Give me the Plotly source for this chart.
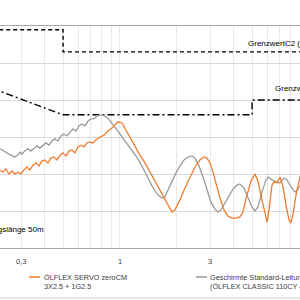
import plotly.graph_objects as go
import math

# Frequency in MHz, level in dBµV
gray_f = [0.232, 0.2433, 0.2555, 0.2683, 0.278, 0.2885, 0.296, 0.303, 0.314, 0.326, 0.338, 0.351, 0.364, 0.377,
          0.391, 0.406, 0.421, 0.437, 0.453, 0.470, 0.487, 0.505, 0.524, 0.544, 0.564, 0.585, 0.607, 0.629,
          0.653, 0.677, 0.702, 0.729, 0.756, 0.784, 0.813, 0.864, 0.918, 0.976, 1.037, 1.102, 1.171, 1.245,
          1.323, 1.406, 1.477, 1.55, 1.608, 1.668, 1.73, 1.795, 1.884, 1.979, 2.077, 2.182, 2.290, 2.404,
          2.493, 2.618, 2.750, 2.886, 3.03, 3.18, 3.30, 3.42, 3.59, 3.77, 3.96, 4.16, 4.31, 4.53, 4.76, 4.99,
          5.18, 5.37, 5.64, 5.92, 6.07, 6.30, 6.61, 7.02, 7.38, 7.65, 8.03, 8.43, 8.74, 8.96, 9.41]
gray_db = [46.8, 46.2, 45.4, 44.9, 44.6, 45.1, 45.9, 45.4, 46.2, 46.8, 46.2, 47.0, 47.6, 47.0,
           47.8, 48.4, 47.8, 48.9, 49.5, 48.9, 50.3, 50.8, 50.3, 51.4, 52.2, 51.6, 53.0, 53.5,
           53.0, 54.3, 54.9, 54.9, 55.7, 55.9, 55.9, 55.1, 53.5, 51.6, 49.7, 47.8, 45.9, 44.1,
           41.6, 38.9, 36.8, 35.1, 34.1, 33.5, 33.8, 35.7, 38.1, 40.3, 42.2, 43.8, 44.6, 44.9,
           44.3, 42.2, 39.2, 35.7, 32.4, 30.5, 29.7, 30.3, 32.2, 34.3, 35.9, 37.0, 37.3, 36.2, 33.5, 31.1,
           30.0, 31.1, 35.1, 38.4, 39.2, 38.6, 37.8, 37.6, 38.9, 38.4, 36.5, 35.1, 35.9, 36.8, 37.6]

orange_f = [0.232, 0.2404, 0.2493, 0.2586, 0.2683, 0.278, 0.2885, 0.2994, 0.3105, 0.322, 0.334, 0.3465,
            0.3594, 0.3728, 0.3867, 0.401, 0.416, 0.4314, 0.4474, 0.4642, 0.482, 0.4993, 0.5179, 0.5372,
            0.5572, 0.578, 0.5995, 0.6219, 0.645, 0.669, 0.694, 0.720, 0.7465, 0.784, 0.823, 0.864, 0.907,
            0.941, 0.976, 1.025, 1.076, 1.13, 1.20, 1.276, 1.356, 1.441, 1.532, 1.628, 1.73, 1.816, 1.884,
            1.954, 2.077, 2.207, 2.346, 2.493, 2.65, 2.783, 2.886, 2.993, 3.105, 3.22, 3.38, 3.55, 3.73,
            3.91, 4.11, 4.31, 4.47, 4.70, 4.93, 5.18, 5.37, 5.64, 5.85, 6.0, 6.14, 6.37, 6.61, 6.77, 7.02,
            7.29, 7.55, 7.84, 8.03, 8.23, 8.53, 8.96, 9.41]
orange_db = [41.1, 40.5, 41.4, 40.0, 40.8, 40.0, 40.5, 40.0, 41.1, 41.9, 41.1, 42.4,
             43.0, 42.2, 43.5, 43.8, 43.0, 44.3, 44.6, 43.8, 45.1, 45.7, 44.9, 46.2,
             46.5, 45.7, 47.3, 47.8, 47.3, 48.4, 48.6, 48.4, 49.2, 50.0, 50.5, 51.6, 52.4,
             53.2, 54.1, 53.8, 51.9, 50.0, 47.3, 45.1, 43.0, 40.5, 38.1, 35.4, 33.0, 31.1, 29.7,
             30.3, 33.0, 36.2, 39.2, 41.9, 43.8, 44.6, 44.3, 43.0, 40.5, 37.3, 33.5, 30.3, 28.6,
             28.1, 28.1, 28.4, 29.7, 34.3, 38.1, 40.0, 38.1, 33.0, 28.9, 27.0, 30.3, 37.0, 38.1, 37.6, 39.2,
             36.5, 31.6, 27.6, 26.8, 29.2, 34.3, 39.2, 41.6]

c2_f = [0.15, 0.5, 0.5, 30]
c2_db = [79, 79, 73, 73]
c1_f = [0.15, 0.5, 5, 5, 30]
c1_db = [66, 56, 56, 60, 60]

tick_vals = [0.3, 0.4, 0.5, 0.6, 0.7, 0.8, 0.9, 1, 2, 3, 4, 5, 6, 7, 8, 9]
tick_text = ["0,3", "", "", "", "", "", "", "1", "", "3", "", "", "", "", "", ""]

name_orange = "ÖLFLEX SERVO zeroCM<br>3X2.5 + 1G2.5"
name_gray = "Geschirmte Standard-Leitung<br>(ÖLFLEX CLASSIC 110CY 4G2.5)"

FONT = "Liberation Sans, Arial, sans-serif"

fig = go.Figure()
fig.add_trace(go.Scatter(x=c2_f, y=c2_db, mode="lines",
                         line=dict(color="#000000", width=1.4, dash="4px,3px"), showlegend=False))
fig.add_trace(go.Scatter(x=c1_f, y=c1_db, mode="lines",
                         line=dict(color="#000000", width=1.4, dash="7px,3px,2px,3px"), showlegend=False))
fig.add_trace(go.Scatter(x=gray_f, y=gray_db, mode="lines",
                         line=dict(color="#9a9a9a", width=1.3), showlegend=False))
fig.add_trace(go.Scatter(x=orange_f, y=orange_db, mode="lines",
                         line=dict(color="#ED7D31", width=1.3), showlegend=False))

# plot area: x 0..300 px, y 26..248 px
def py(pix):
    return (248 - pix) / 222.0

def px(pix):
    return pix / 300.0

shapes = [
    dict(type="line", xref="paper", yref="paper", x0=0, x1=1, y0=py(298), y1=py(298),
         line=dict(color="#d0d0d0", width=1)),
    dict(type="line", xref="paper", yref="paper", x0=px(29), x1=px(40), y0=py(277), y1=py(277),
         line=dict(color="#ED7D31", width=1.5)),
    dict(type="line", xref="paper", yref="paper", x0=px(196), x1=px(207), y0=py(277), y1=py(277),
         line=dict(color="#9a9a9a", width=1.5)),
]

annotations = [
    dict(xref="paper", yref="paper", x=px(42), y=py(281.5), xanchor="left", yanchor="middle",
         text=name_orange, showarrow=False, align="left",
         font=dict(family=FONT, size=7.3, color="#404040")),
    dict(xref="paper", yref="paper", x=px(208), y=py(281.5), xanchor="left", yanchor="middle",
         text=name_gray, showarrow=False, align="left",
         font=dict(family=FONT, size=7.3, color="#404040")),
    dict(xref="paper", yref="paper", x=px(46), y=py(229), xanchor="right", yanchor="middle",
         text="Leitungslänge 50m", showarrow=False,
         font=dict(family=FONT, size=8, color="#000000")),
    dict(xref="paper", yref="paper", x=px(246), y=py(43), xanchor="left", yanchor="middle",
         text="GrenzwertC2 (Industriebereich)", showarrow=False,
         font=dict(family=FONT, size=8, color="#000000")),
    dict(xref="paper", yref="paper", x=px(273), y=py(88), xanchor="left", yanchor="middle",
         text="GrenzwertC1 (Wohnbereich)", showarrow=False,
         font=dict(family=FONT, size=8, color="#000000")),
]

fig.update_layout(
    width=300, height=300,
    margin=dict(l=0, r=0, t=26, b=52),
    paper_bgcolor="white", plot_bgcolor="white",
    shapes=shapes, annotations=annotations,
    showlegend=False,
    xaxis=dict(type="log", range=[math.log10(0.232), math.log10(8.96)],
               tickvals=tick_vals, ticktext=tick_text, ticks="",
               showgrid=True, gridcolor="#e8e8e8", gridwidth=1,
               showline=True, linecolor="#a6a6a6", linewidth=1, mirror=True,
               zeroline=False, ticklabelstandoff=6,
               tickfont=dict(family=FONT, size=7.5, color="#404040")),
    yaxis=dict(range=[20, 80], dtick=10, showticklabels=False, ticks="",
               showgrid=True, gridcolor="#d9d9d9", gridwidth=1,
               showline=False, zeroline=False),
)

fig.write_html("out.html")
